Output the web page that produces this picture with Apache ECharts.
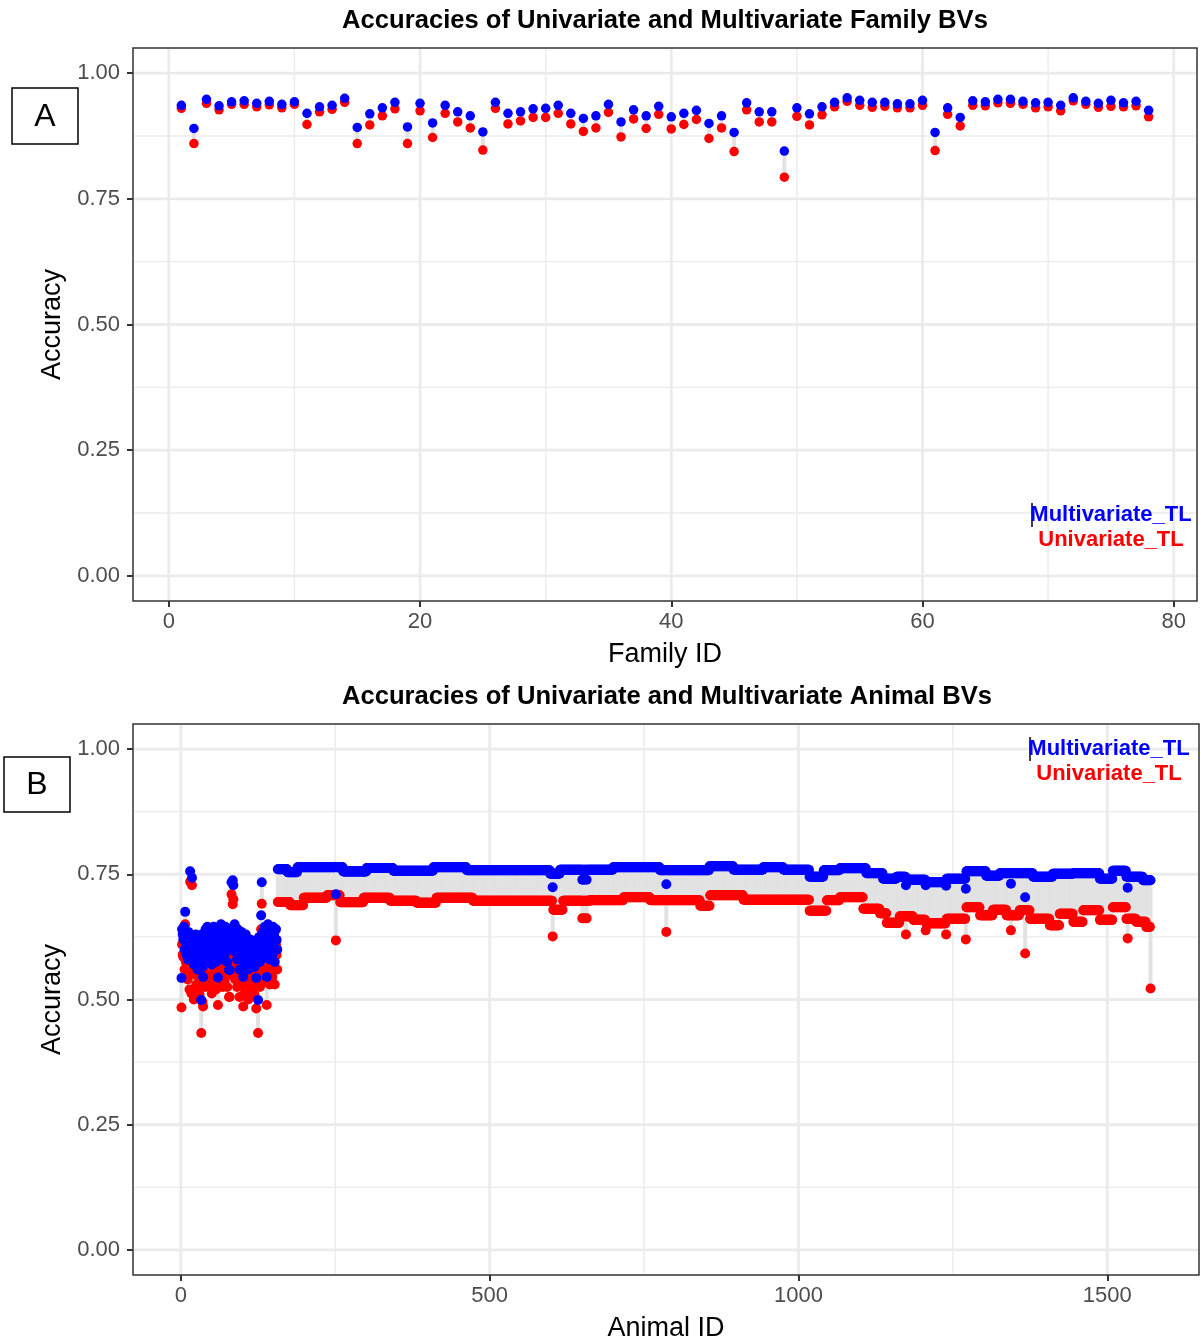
<!DOCTYPE html>
<html>
<head>
<meta charset="utf-8">
<script src="https://cdn.jsdelivr.net/npm/echarts@6/dist/echarts.min.js"></script>
<style>html,body{margin:0;padding:0;background:#fff;}#chart{width:1201px;height:1344px;}</style>
</head>
<body>
<div id="chart"></div>
<script>
// ---------------- DATA ----------------
// Panel A: family accuracies (family IDs 1..78)
const familyMulti = [
0.936,0.890,0.948,0.935,0.943,0.945,0.940,0.944,0.938,0.943,
0.920,0.933,0.936,0.950,0.892,0.919,0.931,0.942,0.893,0.940,
0.901,0.936,0.923,0.915,0.883,0.942,0.920,0.923,0.929,0.930,
0.936,0.920,0.910,0.915,0.938,0.903,0.927,0.915,0.934,0.913,
0.920,0.926,0.900,0.915,0.882,0.941,0.923,0.923,0.845,0.931,
0.919,0.933,0.942,0.951,0.946,0.942,0.942,0.939,0.939,0.946,
0.882,0.931,0.912,0.945,0.943,0.948,0.948,0.944,0.941,0.942,
0.936,0.951,0.944,0.940,0.946,0.941,0.944,0.926];
const familyUni = [
0.930,0.860,0.940,0.927,0.938,0.938,0.933,0.937,0.931,0.938,
0.898,0.923,0.928,0.942,0.860,0.897,0.915,0.929,0.860,0.925,
0.872,0.920,0.903,0.891,0.847,0.930,0.899,0.905,0.912,0.912,
0.920,0.899,0.884,0.891,0.922,0.873,0.909,0.890,0.918,0.889,
0.898,0.908,0.870,0.891,0.844,0.927,0.903,0.903,0.793,0.914,
0.897,0.917,0.933,0.944,0.936,0.932,0.934,0.931,0.931,0.936,
0.846,0.918,0.895,0.936,0.935,0.941,0.940,0.938,0.931,0.933,
0.925,0.945,0.938,0.932,0.934,0.933,0.935,0.913];

// Panel B: animal accuracies (animal IDs 1..1570)
const animalCount = 1570;
// founders / parents, IDs 1..156
const clusterMulti = [
0.543,0.640,0.630,0.620,0.645,0.600,0.675,0.615,0.590,0.625,0.580,0.635,
0.600,0.610,0.756,0.620,0.580,0.743,0.605,0.625,0.570,0.615,0.595,0.630,
0.585,0.610,0.560,0.620,0.600,0.575,0.615,0.590,0.499,0.630,0.565,0.545,
0.605,0.625,0.580,0.640,0.610,0.595,0.645,0.620,0.600,0.635,0.580,0.615,
0.640,0.570,0.625,0.600,0.645,0.610,0.590,0.630,0.575,0.615,0.600,0.544,
0.625,0.585,0.640,0.605,0.650,0.595,0.620,0.580,0.635,0.610,0.590,0.645,
0.600,0.625,0.575,0.640,0.615,0.559,0.559,0.620,0.600,0.734,0.640,0.738,
0.728,0.615,0.650,0.595,0.630,0.605,0.580,0.640,0.615,0.590,0.560,0.625,
0.600,0.635,0.580,0.610,0.545,0.620,0.595,0.570,0.630,0.605,0.585,0.615,
0.560,0.600,0.575,0.620,0.590,0.570,0.605,0.580,0.615,0.595,0.565,0.610,
0.585,0.543,0.600,0.620,0.499,0.590,0.625,0.575,0.610,0.668,0.734,0.600,
0.635,0.585,0.620,0.645,0.600,0.630,0.545,0.615,0.650,0.595,0.635,0.580,
0.640,0.610,0.625,0.590,0.645,0.605,0.630,0.575,0.620,0.640,0.619,0.600];
const clusterUni = [
0.484,0.610,0.590,0.585,0.620,0.560,0.650,0.575,0.545,0.600,0.540,0.605,
0.555,0.520,0.735,0.580,0.512,0.728,0.560,0.590,0.500,0.570,0.550,0.600,
0.530,0.575,0.520,0.590,0.545,0.510,0.585,0.540,0.433,0.600,0.495,0.486,
0.560,0.595,0.525,0.615,0.570,0.545,0.620,0.585,0.540,0.605,0.530,0.575,
0.610,0.512,0.590,0.555,0.615,0.565,0.530,0.600,0.520,0.580,0.550,0.489,
0.595,0.535,0.610,0.560,0.625,0.545,0.585,0.525,0.600,0.570,0.540,0.615,
0.550,0.590,0.525,0.605,0.570,0.505,0.505,0.590,0.550,0.710,0.610,0.690,
0.700,0.575,0.620,0.540,0.600,0.560,0.525,0.615,0.575,0.545,0.505,0.590,
0.555,0.605,0.530,0.570,0.486,0.585,0.545,0.515,0.595,0.560,0.535,0.570,
0.500,0.550,0.525,0.580,0.540,0.519,0.555,0.530,0.565,0.540,0.510,0.565,
0.530,0.482,0.550,0.575,0.433,0.540,0.590,0.525,0.570,0.640,0.691,0.555,
0.600,0.535,0.585,0.615,0.560,0.595,0.489,0.580,0.620,0.550,0.605,0.530,
0.610,0.570,0.590,0.545,0.615,0.565,0.600,0.530,0.590,0.610,0.589,0.560];
// offspring blocks: [firstID, lastID, accuracy]
const offspringMultiRuns = [
[157,172,0.760],[173,188,0.754],[189,262,0.764],[263,300,0.7555],[301,343,0.7625],
[344,408,0.757],[409,462,0.764],[463,597,0.758],[598,613,0.751],[614,699,0.759],
[700,775,0.764],[776,855,0.758],[856,894,0.766],[895,942,0.759],[943,975,0.764],
[976,1017,0.759],[1018,1040,0.745],[1041,1066,0.758],[1067,1109,0.762],[1110,1136,0.752],
[1137,1158,0.741],[1159,1174,0.745],[1175,1206,0.739],[1207,1239,0.734],[1240,1271,0.741],
[1272,1303,0.756],[1304,1325,0.747],[1326,1379,0.752],[1380,1411,0.745],[1412,1444,0.751],
[1445,1487,0.752],[1488,1508,0.741],[1509,1530,0.757],[1531,1557,0.745],[1558,1570,0.738]];
const offspringUniRuns = [
[157,176,0.6945],[177,198,0.688],[199,236,0.703],[237,257,0.708],[258,295,0.694],
[296,338,0.703],[339,381,0.697],[382,413,0.693],[414,472,0.703],[473,602,0.697],
[603,618,0.679],[619,662,0.697],[663,716,0.698],[717,759,0.704],[760,840,0.698],
[841,856,0.687],[857,910,0.708],[911,1017,0.699],[1018,1045,0.677],[1046,1066,0.698],
[1067,1104,0.704],[1105,1131,0.681],[1132,1142,0.672],[1143,1163,0.653],[1164,1185,0.666],
[1186,1206,0.659],[1207,1239,0.652],[1240,1271,0.661],[1272,1293,0.684],[1294,1314,0.668],
[1315,1336,0.679],[1337,1357,0.668],[1358,1374,0.678],[1375,1406,0.661],[1407,1422,0.648],
[1423,1444,0.671],[1445,1460,0.655],[1461,1487,0.678],[1488,1508,0.659],[1509,1530,0.684],
[1531,1546,0.661],[1547,1562,0.655],[1563,1570,0.645]];
// individual animals off their block: [ID, multivariate, univariate]
const offspringOutliers = [
[251,0.710,0.618],[602,0.724,0.626],[650,0.739,0.662],[653,0.739,0.662],[657,0.739,0.662],
[786,0.730,0.635],[1174,0.728,0.630],[1206,0.728,0.638],[1239,0.727,0.630],[1271,0.721,0.620],
[1344,0.731,0.638],[1367,0.704,0.592],[1533,0.723,0.622],[1570,0.738,0.522]];

// axis ticks
const ticksYLabels = [0, 0.25, 0.5, 0.75, 1];
const ticksYMinor = [0.125, 0.375, 0.625, 0.875];
const ticksXA = [0, 20, 40, 60, 80];
const ticksXAMinor = [10, 30, 50, 70];
const ticksXB = [0, 500, 1000, 1500];
const ticksXBMinor = [250, 750, 1250];

// ---------------- BUILD ----------------
const familyIds = familyMulti.map((v, i) => i + 1);
const animalMulti = new Array(animalCount);
const animalUni = new Array(animalCount);
clusterMulti.forEach((v, i) => { animalMulti[i] = v; });
clusterUni.forEach((v, i) => { animalUni[i] = v; });
offspringMultiRuns.forEach(([a, b, v]) => { for (let id = a; id <= b; id++) animalMulti[id - 1] = v; });
offspringUniRuns.forEach(([a, b, v]) => { for (let id = a; id <= b; id++) animalUni[id - 1] = v; });
offspringOutliers.forEach(([id, m, u]) => { animalMulti[id - 1] = m; animalUni[id - 1] = u; });
const animalIds = animalMulti.map((v, i) => i + 1);

const FONT = '"Liberation Sans", Arial, sans-serif';
const BLUE = '#0000ff', RED = '#ff0000', SEG = '#e2e2e2', GRIDC = '#ebebeb';

function gridLineData(majX, minX, majY, minY) {
  const d = [];
  majX.forEach(v => d.push([v, 0, 0]));
  minX.forEach(v => d.push([v, 0, 1]));
  majY.forEach(v => d.push([v, 1, 0]));
  minY.forEach(v => d.push([v, 1, 1]));
  return d;
}
function renderGridLine(params, api) {
  const cs = params.coordSys;
  const v = api.value(0), dir = api.value(1), minor = api.value(2);
  const w = minor ? 1.4 : 2.8;
  if (dir === 0) {
    const p = api.coord([v, 0.5]);
    return { type: 'line', shape: { x1: p[0], y1: cs.y + 1, x2: p[0], y2: cs.y + cs.height - 1 }, style: { stroke: GRIDC, lineWidth: w } };
  }
  const p = api.coord([0, v]);
  return { type: 'line', shape: { x1: cs.x + 1, y1: p[1], x2: cs.x + cs.width - 1, y2: p[1] }, style: { stroke: GRIDC, lineWidth: w } };
}
function renderSegment(params, api) {
  const x = api.value(0);
  const p1 = api.coord([x, api.value(1)]);
  const p2 = api.coord([x, api.value(2)]);
  return { type: 'line', shape: { x1: p1[0], y1: p1[1], x2: p2[0], y2: p2[1] }, style: { stroke: SEG, lineWidth: 4 } };
}
function xAxisDef(gi, min, max, ticks, name) {
  return {
    type: 'value', gridIndex: gi, min: min, max: max,
    axisLine: { show: false, onZero: false },
    axisTick: { show: true, customValues: ticks, length: 6, lineStyle: { color: '#333', width: 2 } },
    axisLabel: { customValues: ticks, margin: 10, color: '#4d4d4d', fontSize: 22, fontFamily: FONT,
      formatter: v => String(v) },
    splitLine: { show: false },
    name: name, nameLocation: 'middle', nameGap: 40,
    nameTextStyle: { fontSize: 27, color: '#000', fontFamily: FONT }
  };
}
function yAxisDef(gi) {
  return {
    type: 'value', gridIndex: gi, min: -0.05, max: 1.05,
    axisLine: { show: false, onZero: false },
    axisTick: { show: true, customValues: ticksYLabels, length: 6, lineStyle: { color: '#333', width: 2 } },
    axisLabel: { customValues: ticksYLabels, margin: 13, color: '#4d4d4d', fontSize: 22, fontFamily: FONT,
      formatter: v => Number(v).toFixed(2) },
    splitLine: { show: false },
    name: 'Accuracy', nameLocation: 'middle', nameGap: 64,
    nameTextStyle: { fontSize: 27, color: '#000', fontFamily: FONT }
  };
}
function legendGraphics(cx, y1, lineX) {
  return [
    { type: 'line', z: 100, shape: { x1: lineX, y1: y1 - 12, x2: lineX, y2: y1 + 12 }, style: { stroke: '#000', lineWidth: 1.5 } },
    { type: 'text', z: 100, x: cx, y: y1, style: { text: 'Multivariate_TL', fontSize: 22, fontWeight: 'bold', fontFamily: FONT, fill: BLUE, align: 'center', verticalAlign: 'middle', textAlign: 'center', textVerticalAlign: 'middle' } },
    { type: 'text', z: 100, x: cx, y: y1 + 25, style: { text: 'Univariate_TL', fontSize: 22, fontWeight: 'bold', fontFamily: FONT, fill: RED, align: 'center', verticalAlign: 'middle', textAlign: 'center', textVerticalAlign: 'middle' } }
  ];
}
function panelLabel(x, y, w, h, letter) {
  return [
    { type: 'rect', z: 100, shape: { x: x, y: y, width: w, height: h }, style: { fill: '#fff', stroke: '#000', lineWidth: 1.5 } },
    { type: 'text', z: 101, x: x + w / 2, y: y + h / 2 + 1, style: { text: letter, fontSize: 32, fontFamily: FONT, fill: '#000', align: 'center', verticalAlign: 'middle', textAlign: 'center', textVerticalAlign: 'middle' } }
  ];
}

const chart = echarts.init(document.getElementById('chart'), null, { renderer: 'canvas' });
const titleStyle = { fontSize: 25.6, fontWeight: 'bold', color: '#000', fontFamily: FONT };
chart.setOption({
  animation: false,
  backgroundColor: '#fff',
  title: [
    { text: 'Accuracies of Univariate and Multivariate Family BVs', left: 665, top: 8, padding: 0, textAlign: 'center', textStyle: titleStyle },
    { text: 'Accuracies of Univariate and Multivariate Animal BVs', left: 667, top: 684, padding: 0, textAlign: 'center', textStyle: titleStyle }
  ],
  grid: [
    { left: 133, top: 48, width: 1064, height: 553, show: true, borderColor: '#333', borderWidth: 1.5, backgroundColor: '#fff' },
    { left: 133, top: 724, width: 1066, height: 551, show: true, borderColor: '#333', borderWidth: 1.5, backgroundColor: '#fff' }
  ],
  xAxis: [
    xAxisDef(0, -2.85, 81.85, ticksXA, 'Family ID'),
    xAxisDef(1, -77.5, 1648.5, ticksXB, 'Animal ID')
  ],
  yAxis: [yAxisDef(0), yAxisDef(1)],
  series: [
    { type: 'custom', name: 'gridA', xAxisIndex: 0, yAxisIndex: 0, silent: true, z: 1,
      data: gridLineData(ticksXA, ticksXAMinor, ticksYLabels, ticksYMinor), renderItem: renderGridLine },
    { type: 'custom', name: 'gapA', xAxisIndex: 0, yAxisIndex: 0, silent: true, z: 2, encode: { x: 0, y: [1, 2] },
      data: familyIds.map((id, i) => [id, familyUni[i], familyMulti[i]]), renderItem: renderSegment },
    { type: 'scatter', name: 'Univariate_TL', xAxisIndex: 0, yAxisIndex: 0, z: 3, symbolSize: 9.5,
      itemStyle: { color: RED, opacity: 1 }, data: familyIds.map((id, i) => [id, familyUni[i]]) },
    { type: 'scatter', name: 'Multivariate_TL', xAxisIndex: 0, yAxisIndex: 0, z: 4, symbolSize: 9.5,
      itemStyle: { color: BLUE, opacity: 1 }, data: familyIds.map((id, i) => [id, familyMulti[i]]) },
    { type: 'custom', name: 'gridB', xAxisIndex: 1, yAxisIndex: 1, silent: true, z: 1,
      data: gridLineData(ticksXB, ticksXBMinor, ticksYLabels, ticksYMinor), renderItem: renderGridLine },
    { type: 'custom', name: 'gapB', xAxisIndex: 1, yAxisIndex: 1, silent: true, z: 2, encode: { x: 0, y: [1, 2] },
      data: animalIds.map((id, i) => [id, animalUni[i], animalMulti[i]]), renderItem: renderSegment },
    { type: 'scatter', name: 'Univariate_TL', xAxisIndex: 1, yAxisIndex: 1, z: 3, symbolSize: 10,
      itemStyle: { color: RED, opacity: 1 }, data: animalIds.map((id, i) => [id, animalUni[i]]) },
    { type: 'scatter', name: 'Multivariate_TL', xAxisIndex: 1, yAxisIndex: 1, z: 4, symbolSize: 10,
      itemStyle: { color: BLUE, opacity: 1 }, data: animalIds.map((id, i) => [id, animalMulti[i]]) }
  ],
  graphic: [].concat(
    panelLabel(12, 88, 66, 56, 'A'),
    panelLabel(4, 757, 66, 55, 'B'),
    legendGraphics(1111, 515, 1032),
    legendGraphics(1109, 749, 1030)
  )
});
</script>
</body>
</html>
